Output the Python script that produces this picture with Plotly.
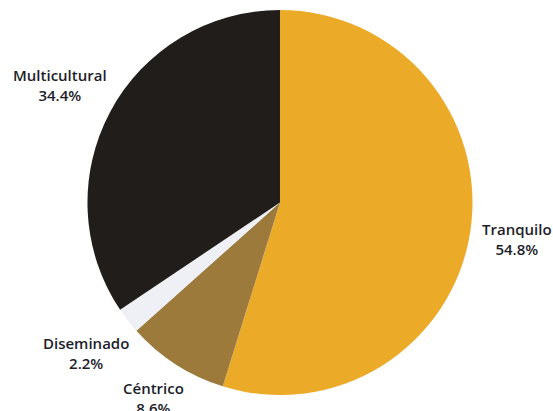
import math
import plotly.graph_objects as go

# Distribution of neighbourhood types (%)
labels = ["Tranquilo", "Céntrico", "Diseminado", "Multicultural"]
values = [54.8, 8.6, 2.2, 34.4]
colors = ["#ECAA29", "#9C7A3C", "#EEF0F5", "#211D1A"]

W, H = 553, 411
dom_x = [0.1563, 0.8563]
dom_y = [0.0389, 0.9757]

fig = go.Figure(
    go.Pie(
        labels=labels,
        values=values,
        sort=False,
        direction="clockwise",
        rotation=0,
        marker=dict(colors=colors, line=dict(width=0)),
        textinfo="none",
        hoverinfo="label+value",
        showlegend=False,
        domain=dict(x=dom_x, y=dom_y),
        automargin=False,
    )
)

# Outside labels placed along each slice's mid-angle
cx = (dom_x[0] + dom_x[1]) / 2 * W
cy = (dom_y[0] + dom_y[1]) / 2 * H
label_dist = [240, 233, 246, 249]  # pixels from the centre, per slice
total = sum(values)
cum = 0.0
for lab, val, dist in zip(labels, values, label_dist):
    mid = (cum + val / 2) / total * 2 * math.pi
    cum += val
    px = cx + dist * math.sin(mid)
    py = cy + dist * math.cos(mid)
    fig.add_annotation(
        x=px / W,
        y=py / H,
        xref="paper",
        yref="paper",
        text=f"{lab}<br>{val:.1f}%",
        showarrow=False,
        xanchor="center",
        yanchor="middle",
        align="center",
        font=dict(family="Open Sans", size=15, color="#1E1E2A", weight=600),
    )

fig.update_layout(
    width=W,
    height=H,
    margin=dict(l=0, r=0, t=0, b=0),
    paper_bgcolor="white",
    plot_bgcolor="white",
)

fig.write_html("out.html")
